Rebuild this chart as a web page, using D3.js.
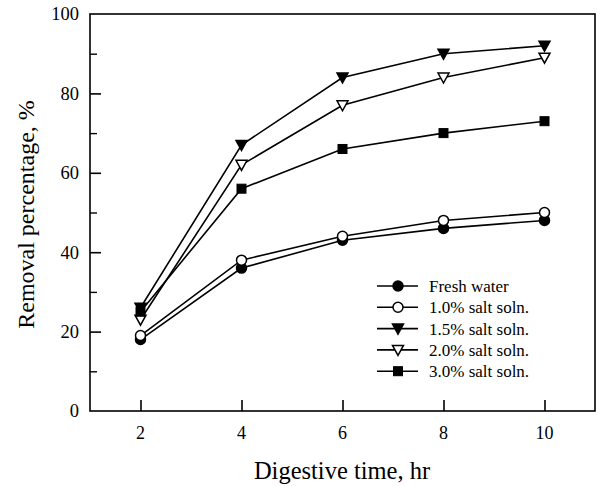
<!DOCTYPE html>
<html><head><meta charset="utf-8">
<script src="https://cdn.jsdelivr.net/npm/d3@7"></script>
<style>body{margin:0;background:#fff}svg{display:block}text{font-family:"Liberation Serif","Times New Roman",serif;fill:#000}</style>
</head><body><svg id="c" width="597" height="486"></svg>
<script>
const times = [2, 4, 6, 8, 10];
const freshWater = [18, 36, 43, 46, 48];
const salt10 = [19, 38, 44, 48, 50];
const salt15 = [26, 67, 84, 90, 92];
const salt20 = [23, 62, 77, 84, 89];
const salt30 = [25, 56, 66, 70, 73];
const seriesNames = ["Fresh water", "1.0% salt soln.", "1.5% salt soln.", "2.0% salt soln.", "3.0% salt soln."];
const xTicks = [2, 4, 6, 8, 10];
const yTicks = [0, 20, 40, 60, 80, 100];
const yMinorTicks = [10, 30, 50, 70, 90];

const series = [
  {name: seriesNames[0], values: freshWater, marker: "circle", fill: "#000"},
  {name: seriesNames[1], values: salt10, marker: "circle", fill: "#fff"},
  {name: seriesNames[2], values: salt15, marker: "tri", fill: "#000"},
  {name: seriesNames[3], values: salt20, marker: "tri", fill: "#fff"},
  {name: seriesNames[4], values: salt30, marker: "square", fill: "#000"}
];

const svg = d3.select("#c");
const L = 90, R = 595, T = 14, B = 411;
const x = d3.scaleLinear().domain([1, 11]).range([L, R]);
const y = d3.scaleLinear().domain([0, 100]).range([B, T]);

// frame
svg.append("rect").attr("x", L).attr("y", T).attr("width", R - L).attr("height", B - T)
  .attr("fill", "none").attr("stroke", "#000").attr("stroke-width", 1.6);

// y axis
const gy = svg.append("g").attr("transform", `translate(${L},0)`)
  .call(d3.axisRight(y).tickValues(yTicks.filter(v => v > 0 && v < 100)).tickSize(11).tickFormat(""));
gy.select(".domain").remove();
gy.selectAll("line").attr("stroke-width", 1.6);
const gym = svg.append("g").attr("transform", `translate(${L},0)`)
  .call(d3.axisRight(y).tickValues(yMinorTicks).tickSize(7).tickFormat(""));
gym.select(".domain").remove();
gym.selectAll("line").attr("stroke-width", 1.4);
svg.append("g").selectAll("text").data(yTicks).join("text")
  .attr("x", L - 11).attr("y", d => y(d)).attr("dy", "0.35em").attr("text-anchor", "end")
  .attr("font-size", 18.5).text(d => d);

// x axis
const gx = svg.append("g").attr("transform", `translate(0,${B})`)
  .call(d3.axisTop(x).tickValues(xTicks).tickSize(11).tickFormat(""));
gx.select(".domain").remove();
gx.selectAll("line").attr("stroke-width", 1.6);
svg.append("g").selectAll("text").data(xTicks).join("text")
  .attr("x", d => x(d)).attr("y", B + 28).attr("text-anchor", "middle")
  .attr("font-size", 18).text(d => d);

// titles
svg.append("text").attr("x", 342).attr("y", 479).attr("text-anchor", "middle")
  .attr("font-size", 24.5).text("Digestive time, hr");
svg.append("text").attr("transform", `translate(34,${(T + B) / 2 + 2}) rotate(-90)`)
  .attr("text-anchor", "middle").attr("font-size", 24).text("Removal percentage, %");

function drawMarker(g, s, cx, cy) {
  if (s.marker === "circle") {
    g.append("circle").attr("cx", cx).attr("cy", cy).attr("r", 5)
      .attr("fill", s.fill).attr("stroke", "#000").attr("stroke-width", 1.5);
  } else if (s.marker === "tri") {
    const p = d3.path();
    p.moveTo(cx - 5.5, cy - 4.5); p.lineTo(cx + 5.5, cy - 4.5); p.lineTo(cx, cy + 5.5); p.closePath();
    g.append("path").attr("d", p.toString()).attr("fill", s.fill).attr("stroke", "#000").attr("stroke-width", 1.5);
  } else {
    g.append("rect").attr("x", cx - 4.5).attr("y", cy - 4.5).attr("width", 9).attr("height", 9)
      .attr("fill", s.fill).attr("stroke", "#000").attr("stroke-width", 1);
  }
}

const line = d3.line().x((d, i) => x(times[i])).y(d => y(d));
series.forEach(s => {
  svg.append("path").datum(s.values).attr("d", line).attr("fill", "none")
    .attr("stroke", "#000").attr("stroke-width", 1.6);
});
series.forEach(s => {
  const g = svg.append("g");
  s.values.forEach((v, i) => drawMarker(g, s, x(times[i]), y(v)));
});

// legend
const lg = svg.append("g");
series.forEach((s, i) => {
  const ly = 286 + i * 21.3;
  lg.append("line").attr("x1", 377).attr("x2", 418).attr("y1", ly).attr("y2", ly)
    .attr("stroke", "#000").attr("stroke-width", 1.6);
  drawMarker(lg, s, 398, ly);
  lg.append("text").attr("x", 429).attr("y", ly).attr("dy", "0.35em").attr("font-size", 17).text(s.name);
});
</script></body></html>
